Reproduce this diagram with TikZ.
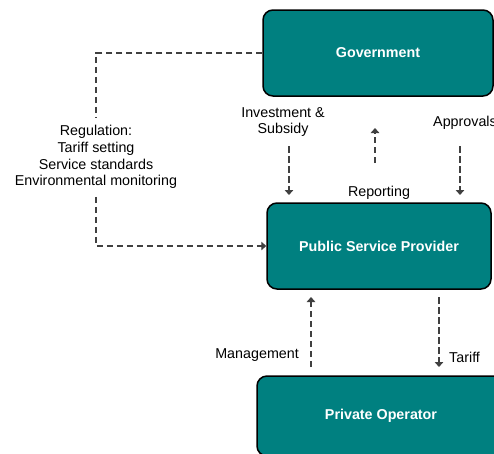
\documentclass[tikz,border=0pt]{standalone}
\usepackage{fontspec}
\setmainfont{Liberation Sans}
\usetikzlibrary{arrows.meta}
\definecolor{tealbox}{RGB}{0,128,128}
\definecolor{flowgray}{RGB}{64,64,64}
\begin{document}
\begin{tikzpicture}[x=1pt,y=-1pt,
  font=\fontsize{14.3}{16.7}\selectfont,
  box/.style={draw=black,line width=1.5pt,fill=tealbox,rounded corners=10pt,
    text=white,font=\fontsize{14.3}{16.7}\selectfont\bfseries},
  flow/.style={draw=flowgray,line width=2.4pt,dash pattern=on 6.5pt off 3.5pt},
  tip/.style={-{Triangle[width=8.5pt,length=5pt]}},
  lbl/.style={inner sep=0pt,align=center}]
\useasboundingbox (0,0) rectangle (494,453);

% Boxes
\node[box,minimum width=230,minimum height=86] (gov) at (378,53) {Government};
\node[box,minimum width=224,minimum height=86] (psp) at (379,246) {Public Service Provider};
\node[box,minimum width=248,minimum height=80] (priv) at (381,416) {Private Operator};

% Regulation path on the left
\node[lbl,inner ysep=8pt] (reg) at (96,157)
  {Regulation:\\Tariff setting\\Service standards\\Environmental monitoring};
\draw[flow] (gov.west) -| (reg.north);
\draw[flow,tip] (reg.south) |- (psp.west);

% Government <-> Public Service Provider
\node[lbl] (inv) at (283,122) {Investment \&\\Subsidy};
\node[lbl] (rep) at (379,193) {Reporting};
\node[lbl] (appr) at (465,123) {Approvals};
\coordinate (inv a) at (289,146);
\coordinate (inv b) at (289,195);
\coordinate (rep a) at (375,163);
\coordinate (rep b) at (375,128);
\coordinate (appr a) at (460,146);
\coordinate (appr b) at (460,195);
\draw[flow,tip] (inv a) -- (inv b);
\draw[flow,tip] (rep a) -- (rep b);
\draw[flow,tip] (appr a) -- (appr b);

% Public Service Provider <-> Private Operator
\node[lbl,anchor=east] (mgmt) at (299,355) {Management};
\node[lbl,anchor=west] (tariff) at (449,357) {Tariff};
\coordinate (mgmt a) at (311,367);
\coordinate (mgmt b) at (311,297);
\coordinate (tariff a) at (439,297);
\coordinate (tariff b) at (439,367);
\draw[flow,tip] (mgmt a) -- (mgmt b);
\draw[flow,tip] (tariff a) -- (tariff b);
\end{tikzpicture}
\end{document}
